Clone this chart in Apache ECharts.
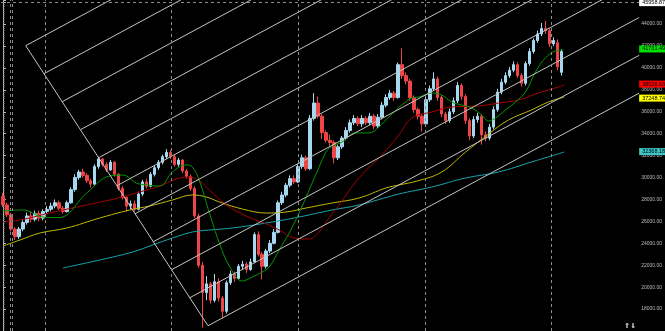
<!DOCTYPE html>
<html><head><meta charset="utf-8">
<script src="https://cdn.jsdelivr.net/npm/echarts@6/dist/echarts.min.js"></script>
<style>html,body{margin:0;padding:0;background:#000}#c{width:665px;height:331px}</style>
</head><body><div id="c"></div>
<script>
// ---- candle data (one entry per bar) ----
const opens = [28300,27500,26600,25300,24600,25300,25900,26500,26200,26700,
26300,26900,27100,27400,27700,27200,26900,27700,28900,30000,
30500,30200,29700,29400,31000,31700,31200,30700,31400,30300,
29000,28200,27400,27600,27100,28500,29600,29200,30300,30900,
31400,31900,32300,31900,31200,31600,30600,30100,29000,26500,
22000,19500,20300,18800,20500,19000,17800,20400,21200,20800,
21900,22100,21600,22300,24800,23000,21900,23300,24000,25000,
27700,28400,29300,29900,29600,31000,31800,30800,35400,36800,
35600,34100,33400,33200,31800,32800,33600,34300,35000,35400,
34900,35400,35000,35600,34700,35500,36600,37300,37700,37300,
40300,39300,38800,37300,36200,35600,34900,37100,38100,39000,
37300,35800,35200,36000,37000,38400,37400,35200,33800,35300,
35600,33900,33600,34600,36200,37800,38700,39300,39800,40300,
39300,38600,40400,41500,42500,43100,43600,43400,42200,42300,
39600];
const closes = [27500,26600,25300,24600,25300,25900,26500,26200,26700,26300,
26900,27100,27400,27700,27200,26900,27700,28900,30000,30500,
30200,29700,29400,31000,31700,31200,30700,31400,30300,29000,
28200,27400,27600,27100,28500,29600,29200,30300,30900,31400,
31900,32300,31900,31200,31600,30600,30100,29000,26500,22000,
19500,20300,18800,20500,19000,17800,20400,21200,20800,21900,
22100,21600,22300,24800,23000,21900,23300,24000,25000,27700,
28400,29300,29900,29600,31000,31800,30800,35400,36800,35600,
34100,33400,33200,31800,32800,33600,34300,35000,35400,34900,
35400,35000,35600,34700,35500,36600,37300,37700,37300,40300,
39300,38800,37300,36200,35600,34900,37100,38100,39000,37300,
35800,35200,36000,37000,38400,37400,35200,33800,35300,35600,
33900,33600,34600,36200,37800,38700,39300,39800,40300,39300,
38600,40400,41500,42500,43100,43600,43400,42200,42500,40100,
41500];
const lows = [27300,26400,25100,24300,24400,25100,25700,25900,26000,26000,
26100,26700,26900,27200,27000,26700,26800,27600,28700,29800,
30000,29500,29100,29300,30800,31000,30500,30600,30100,28800,
28000,26900,27100,26900,27000,28300,29000,29100,30100,30700,
31200,31700,31700,31000,31000,30400,29900,28800,26300,21800,
16300,18800,18500,18600,18700,17200,17600,20200,20500,20700,
21600,21300,21500,22200,22800,20700,21700,23100,23900,24900,
27500,28200,29100,29400,29500,30800,30600,30700,35200,35400,
33500,33200,32900,31300,31600,32600,33400,34100,34800,34700,
34600,34800,34800,34400,34500,35300,36400,37100,37000,37200,
39000,38500,37000,35900,35300,34200,34700,36900,37900,37000,
35500,34900,35000,35800,36800,37100,34900,33400,33600,35000,
33000,33300,33400,34400,36000,37600,38500,39100,39600,39100,
38300,38400,40200,41300,42300,42900,43100,41900,42000,39800,
39300];
const highs = [28600,27700,26800,25500,25500,26100,26800,26900,27000,27000,
27100,27400,27700,28000,27900,27400,27900,29100,30300,30700,
30800,30400,29900,31200,31900,31800,31400,31600,31500,30400,
29200,28300,27900,27900,28700,29800,29900,30500,31100,31600,
32100,32600,32500,32100,31800,31700,30800,30300,29200,26700,
22300,21000,20500,21200,20800,19200,20600,21500,21400,22100,
22400,22300,22600,25000,25100,23200,23500,24300,25300,27900,
28700,29500,30200,30200,31200,32100,32000,35700,37700,37400,
35800,34300,33900,33400,33000,33800,34600,35300,35700,35600,
35700,35600,35900,35800,35800,36900,37600,38000,37900,40500,
41800,39600,39000,37500,36400,35800,37400,38400,39600,39200,
37500,36000,36300,37300,38700,38600,37600,35400,35600,35900,
35800,34200,34900,36500,38100,39000,39600,40100,40600,40500,
39500,40600,41800,42700,43400,44100,44300,43600,42800,42600,
41700];

// ---- moving averages: [bar index, value] ----
const maGreen = [[0,26950],[5,27040],[10,26400],[14,26350],[21,28590],[26.75,30140],[30,30230],[33.5,29500],[36,29320],[39.25,29230],[42.5,30510],[46,31150],[47.5,30960],[49.25,29690],[51.75,26770],[54.25,24030],[56.75,21930],[60,20560],[62.5,20930],[65,21380],[66.75,21840],[69.25,23390],[71.75,24940],[74.25,26770],[76.75,28860],[79.25,30960],[81,32330],[82.25,32790],[85,33240],[88.5,34070],[91.75,34070],[94.25,34610],[96.75,35530],[100,36620],[102.5,37260],[104.25,37350],[107.5,37710],[110,37530],[112.5,36890],[115,36620],[117.5,36350],[120,35710],[121.75,35160],[123.5,35430],[126,36160],[128.5,36890],[131,37810],[133.5,39630],[136,40910],[138.5,41550],[140.5,41640]];
const maRed = [[0,25945],[4.25,26127],[11.75,26766],[18.5,27313],[26.75,27952],[32.5,28499],[39.25,29229],[44.25,29959],[46.75,30050],[49.25,29686],[51.75,28864],[56,27496],[61,26492],[66,25762],[69.25,25215],[73,24485],[76.75,24394],[79.25,25032],[81,25945],[84.25,27496],[89.25,29960],[95,32058],[99.25,33883],[102.5,35434],[107.5,35981],[112.5,36437],[119.25,36529],[124.25,36802],[129.25,37076],[134.25,37715],[139.25,38262],[140.75,38445]];
const maYellow = [[0,23755],[4.25,24302],[9.25,24941],[16,25397],[24.25,26308],[31.75,27040],[36.75,27405],[42.5,27952],[47.5,28408],[51,28226],[54.25,27770],[60,27131],[66,26766],[71,26857],[76,27222],[82.5,27678],[89.25,28134],[96,29047],[99.25,29321],[104,29700],[110,30507],[116,32332],[121.75,33974],[126.75,35251],[132.5,36164],[136.75,36894],[140.75,37350]];
const maCyan = [[15,21748],[24.25,22478],[32.5,23208],[37.5,23846],[42.5,24485],[47.5,25032],[51.75,25215],[57.5,25397],[66,25854],[74.25,26401],[82.5,27040],[89.25,27496],[99.25,28499],[107.5,29139],[116,29960],[124.25,30507],[132.5,31419],[140.75,32332]];

// ---- axis / tags ----
const yTicks = [18000,20000,22000,24000,26000,28000,30000,32000,34000,36000,38000,40000,42000,44000];
const tagValues = {top:45958.87, green:41731.49, red:38528.63, yellow:37248.74, cyan:32368.18};
const separators = [1.75, 2.25, 10.5, 42.25, 74, 105.75, 137.5];
// channel drawing object: base from anchor A to anchor B, 10 equal steps, parallel rays
const channelA = [5.7, 42030];
const channelB = [51.4, 16480];
const channelSteps = 10;
const channelSlope = 196.3; // price per bar

const TOTAL_SLOTS = 160;
const categories = [];
for (let i = 0; i < TOTAL_SLOTS; i++) categories.push(String(i));
const candles = opens.map((o, i) => [o, closes[i], lows[i], highs[i]]);

const channelSeries = [];
channelSeries.push([channelA, channelB]);
for (let k = 0; k <= channelSteps; k++) {
  const sx = channelA[0] + (channelB[0] - channelA[0]) * k / channelSteps;
  const sy = channelA[1] + (channelB[1] - channelA[1]) * k / channelSteps;
  const ex = TOTAL_SLOTS - 0.5;
  channelSeries.push([[sx, sy], [ex, sy + channelSlope * (ex - sx)]]);
}

const tagLine = (val, bg) => ({
  symbol: 'none', silent: true, animation: false,
  lineStyle: { color: 'rgba(0,0,0,0)', width: 1 },
  label: {
    show: true, position: 'end', distance: 0, formatter: val.toFixed(2),
    backgroundColor: bg, color: '#000', fontSize: 5.5, fontFamily: 'Liberation Sans',
    padding: [1, 2, 0, 3], lineHeight: 6
  },
  data: [{ yAxis: val }]
});

const series = [
  {
    type: 'candlestick', xAxisIndex: 0, yAxisIndex: 0, data: candles, barWidth: 3,
    itemStyle: { color: '#a6d8f0', color0: '#ee4646', borderColor: '#a6d8f0', borderColor0: '#ee4646', borderWidth: 1 },
    z: 2
  },
  { type: 'line', xAxisIndex: 1, data: maCyan, smooth: 0.4, showSymbol: false, lineStyle: { color: '#17a6ae', width: 1 }, z: 3,
    markLine: tagLine(tagValues.cyan, '#3cc6c6') },
  { type: 'line', xAxisIndex: 1, data: maYellow, smooth: 0.4, showSymbol: false, lineStyle: { color: '#c2b800', width: 1 }, z: 3,
    markLine: tagLine(tagValues.yellow, '#ffff00') },
  { type: 'line', xAxisIndex: 1, data: maRed, smooth: 0.4, showSymbol: false, lineStyle: { color: '#a80000', width: 1 }, z: 3,
    markLine: tagLine(tagValues.red, '#ff0000') },
  { type: 'line', xAxisIndex: 1, data: maGreen, smooth: 0.4, showSymbol: false, lineStyle: { color: '#009a00', width: 1 }, z: 3,
    markLine: tagLine(tagValues.green, '#00e000') },
  { type: 'line', xAxisIndex: 1, data: [], z: 1,
    markLine: {
      symbol: 'none', silent: true, animation: false,
      lineStyle: { color: '#8c8c8c', type: [3, 3], width: 1 },
      label: { show: false },
      data: separators.map(v => ({ xAxis: v }))
    } },
  { type: 'line', xAxisIndex: 1, data: [], z: 1,
    markLine: {
      symbol: 'none', silent: true, animation: false,
      lineStyle: { color: '#8c8c8c', type: [3, 3], width: 1 },
      label: { show: true, position: 'end', distance: 0, formatter: tagValues.top.toFixed(2),
        backgroundColor: '#ffffff', color: '#000', fontSize: 5.5, fontFamily: 'Liberation Sans', padding: [1, 2, 0, 3], lineHeight: 6 },
      data: [{ yAxis: tagValues.top }]
    } }
];
channelSeries.forEach(seg => series.push({
  type: 'line', xAxisIndex: 1, data: seg, showSymbol: false, silent: true,
  lineStyle: { color: '#c4c4c4', width: 1 }, z: 4
}));

const chart = echarts.init(document.getElementById('c'), null, { renderer: 'canvas' });
chart.setOption({
  backgroundColor: '#000',
  animation: false,
  grid: { left: 1, right: 24, top: 0, bottom: 0 },
  xAxis: [
    { type: 'category', data: categories, boundaryGap: true, show: false },
    { type: 'value', min: -0.5, max: TOTAL_SLOTS - 0.5, show: false }
  ],
  yAxis: {
    type: 'value', position: 'right', min: 16000, max: 46200, interval: 2000, scale: true,
    splitLine: { show: false },
    axisLine: { show: true, lineStyle: { color: '#b8b8b8', width: 1 } },
    axisTick: { show: true, inside: false, length: 3, lineStyle: { color: '#b8b8b8' } },
    minorTick: { show: true, splitNumber: 10, length: 1.5, lineStyle: { color: '#9a9a9a' } },
    axisLabel: {
      color: '#bdbdbd', fontSize: 5, fontFamily: 'Liberation Sans', margin: 2,
      showMinLabel: false, showMaxLabel: false,
      formatter: v => (yTicks.indexOf(v) >= 0 ? v.toFixed(2) : '')
    }
  },
  graphic: [{ type: 'text', right: 29, bottom: 1, style: { text: '⇑⇓', fill: '#e8e8e8', font: 'bold 7px "DejaVu Sans"' } }],
  series: series
});
</script></body></html>
